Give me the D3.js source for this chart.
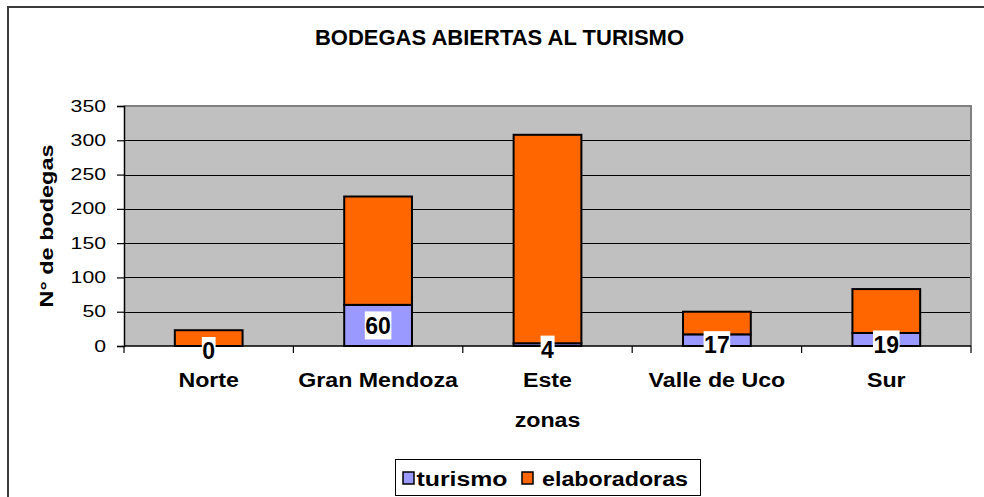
<!DOCTYPE html>
<html>
<head>
<meta charset="utf-8">
<script src="https://cdn.jsdelivr.net/npm/d3@7"></script>
<style>
  html, body { margin: 0; padding: 0; background: #fff; }
  svg { display: block; }
  text { font-family: "Liberation Sans", Arial, sans-serif; fill: #000; }
</style>
</head>
<body>
<svg id="chart" width="984" height="497"></svg>
<script>
// ---- data ----
const categories = ["Norte", "Gran Mendoza", "Este", "Valle de Uco", "Sur"];
const turismo = [0, 60, 4, 17, 19];
const elaboradoras = [23, 158, 304, 33, 64];
const seriesNames = ["turismo", "elaboradoras"];
const seriesColors = ["#9999FF", "#FF6600"];
const yTicks = [0, 50, 100, 150, 200, 250, 300, 350];
const titleText = "BODEGAS ABIERTAS AL TURISMO";
const yTitle = "N° de bodegas";
const xTitle = "zonas";

// ---- layout ----
const svg = d3.select("#chart");
const plot = { left: 124, right: 971, top: 106, bottom: 346 };

// outer frame
svg.append("rect").attr("x", 8).attr("y", 7).attr("width", 1000).attr("height", 520)
  .attr("fill", "#fff").attr("stroke", "#3a3a3a").attr("stroke-width", 2);

const x = d3.scaleBand().domain(categories).range([plot.left, plot.right])
  .paddingInner(0.6).paddingOuter(0.3);
const y = d3.scaleLinear().domain([0, 350]).range([plot.bottom, plot.top]);

// plot background
svg.append("rect").attr("x", plot.left).attr("y", plot.top)
  .attr("width", plot.right - plot.left).attr("height", plot.bottom - plot.top)
  .attr("fill", "#C0C0C0");

// gridlines
svg.append("g").selectAll("line").data(yTicks.filter(d => d > 0 && d < 350)).join("line")
  .attr("x1", plot.left).attr("x2", plot.right)
  .attr("y1", d => Math.round(y(d)) + 0.5).attr("y2", d => Math.round(y(d)) + 0.5)
  .attr("stroke", "#000").attr("stroke-width", 1);

// plot border top & right (gray)
svg.append("path")
  .attr("d", `M${plot.left},${plot.top} H${plot.right} V${plot.bottom}`)
  .attr("fill", "none").attr("stroke", "#808080").attr("stroke-width", 2);

// stacked bars
const stackData = categories.map((c, i) => ({ cat: c, turismo: turismo[i], elaboradoras: elaboradoras[i] }));
const stacked = d3.stack().keys(seriesNames)(stackData);
const color = d3.scaleOrdinal().domain(seriesNames).range(seriesColors);

svg.append("g").selectAll("g").data(stacked).join("g")
  .attr("fill", d => color(d.key))
  .selectAll("rect").data(d => d).join("rect")
  .attr("x", d => x(d.data.cat))
  .attr("width", x.bandwidth())
  .attr("y", d => y(d[1]))
  .attr("height", d => y(d[0]) - y(d[1]))
  .attr("stroke", "#000").attr("stroke-width", 2);

// y axis
const yAxis = d3.axisLeft(y).tickValues(yTicks).tickSize(7).tickPadding(6.5).tickFormat(d3.format("d"));
const gy = svg.append("g").attr("transform", `translate(${plot.left},0)`).call(yAxis);
gy.select(".domain").attr("stroke", "#000").attr("stroke-width", 1.5);
gy.selectAll(".tick line").attr("stroke", "#000").attr("stroke-width", 1.2);
gy.selectAll(".tick text").attr("font-size", 16).attr("font-family", "'Liberation Sans', Arial, sans-serif")
  .attr("transform", "scale(1.33,1)").attr("fill", "#000");

// x axis line and boundary ticks
svg.append("line").attr("x1", plot.left).attr("x2", plot.right)
  .attr("y1", plot.bottom).attr("y2", plot.bottom).attr("stroke", "#000").attr("stroke-width", 1.5);
const step = x.step();
const bounds = categories.map(c => x(c) - step * 0.3).concat([plot.right]);
svg.append("g").selectAll("line").data(bounds).join("line")
  .attr("x1", d => d).attr("x2", d => d)
  .attr("y1", plot.bottom).attr("y2", plot.bottom + 7)
  .attr("stroke", "#000").attr("stroke-width", 1.2);

// category labels
svg.append("g").selectAll("text").data(categories).join("text")
  .attr("transform", d => `translate(${x(d) + x.bandwidth() / 2},387) scale(1.16,1)`)
  .attr("text-anchor", "middle").attr("font-size", 20).attr("font-weight", "bold")
  .text(d => d);

// data labels (turismo) with white box
const labelG = svg.append("g");
categories.forEach((c, i) => {
  const v = turismo[i];
  const segH = y(0) - y(v);
  const cy = y(v / 2) + (segH < 28 ? 5 : 0);
  const cx = x(c) + x.bandwidth() / 2;
  const g = labelG.append("g");
  const t = g.append("text").attr("x", cx).attr("y", cy).attr("dy", "0.36em")
    .attr("text-anchor", "middle").attr("font-size", 23).attr("font-weight", "bold")
    .text(v);
  const bb = t.node().getBBox();
  g.insert("rect", "text").attr("x", bb.x - 0.5).attr("y", cy - 14)
    .attr("width", bb.width + 1).attr("height", 28).attr("fill", "#fff");
});

// title
svg.append("text").attr("x", 499.5).attr("y", 45).attr("text-anchor", "middle")
  .attr("font-size", 22).attr("font-weight", "bold").text(titleText);

// y title
svg.append("text").attr("transform", `translate(53,${(plot.top + plot.bottom) / 2}) rotate(-90)`)
  .attr("text-anchor", "middle").attr("font-size", 18.5).attr("font-weight", "bold")
  .attr("textLength", 163).attr("lengthAdjust", "spacingAndGlyphs")
  .text(yTitle);

// x title
svg.append("text").attr("transform", `translate(${(plot.left + plot.right) / 2},427) scale(1.16,1)`)
  .attr("text-anchor", "middle").attr("font-size", 20).attr("font-weight", "bold").text(xTitle);

// legend
const lg = svg.append("g");
lg.append("rect").attr("x", 395.5).attr("y", 459.5).attr("width", 305).attr("height", 36)
  .attr("fill", "#fff").attr("stroke", "#000").attr("stroke-width", 1);
const legendItems = [
  { name: seriesNames[0], sx: 403, tx: 416.5, tw: 91 },
  { name: seriesNames[1], sx: 522, tx: 542, tw: 146 }
];
legendItems.forEach(it => {
  lg.append("rect").attr("x", it.sx).attr("y", 472).attr("width", 11).attr("height", 12)
    .attr("fill", color(it.name)).attr("stroke", "#000").attr("stroke-width", 1.5);
  lg.append("text").attr("x", it.tx).attr("y", 485.5).attr("font-size", 20).attr("font-weight", "bold")
    .attr("textLength", it.tw).attr("lengthAdjust", "spacingAndGlyphs").text(it.name);
});
</script>
</body>
</html>
